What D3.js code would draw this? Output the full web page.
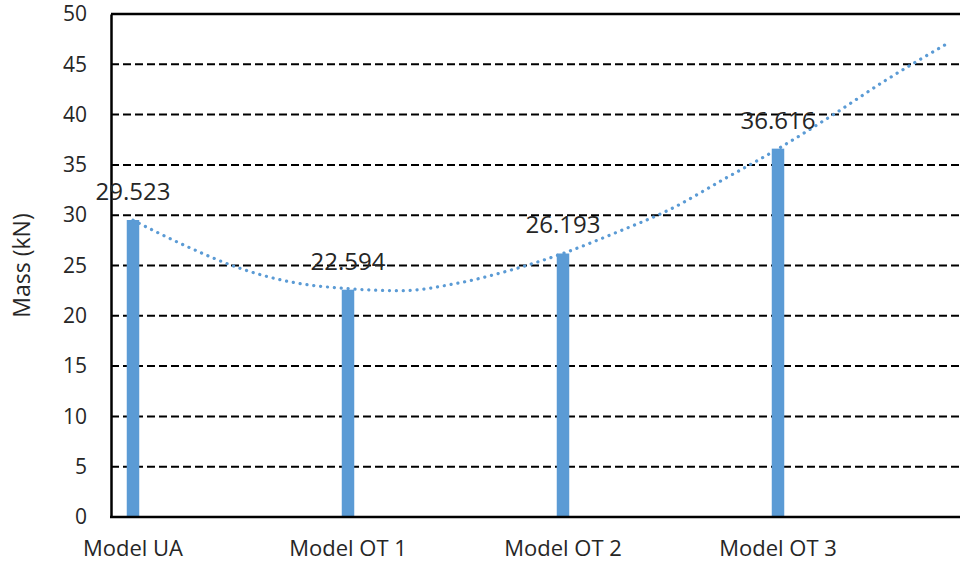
<!DOCTYPE html>
<html>
<head>
<meta charset="utf-8">
<script src="https://cdn.jsdelivr.net/npm/d3@7"></script>
<style>
  body { margin: 0; background: #fff; }
  text { font-family: "Open Sans", "Liberation Sans", sans-serif; fill: #262626; }
</style>
</head>
<body>
<div id="chart"></div>
<script>
const width = 962
const height = 561

// Bars
const models = ["Model UA", "Model OT 1", "Model OT 2", "Model OT 3"]
const masses = [29.523, 22.594, 26.193, 36.616]

// Dotted trend line (category index, value)
const trendIndex = [0, 0.25, 0.5, 0.75, 1.0, 1.25, 1.5, 1.75, 2.0, 2.25, 2.5, 2.75, 3.0, 3.25, 3.5, 3.79]
const trendValues = [29.5, 26.9, 24.7, 23.3, 22.7, 22.5, 23.2, 24.5, 26.2, 28.3, 30.6, 33.6, 36.6, 39.9, 43.4, 47.1]

const yTicks = [0, 5, 10, 15, 20, 25, 30, 35, 40, 45, 50]

const plotLeft = 111
const plotRight = 960
const plotTop = 14
const plotBottom = 517
const barWidth = 12.5
const blue = "#5b9bd5"

const svg = d3.select("#chart").append("svg")
  .attr("width", width)
  .attr("height", height)

const x = d3.scaleLinear().domain([0, 3]).range([133, 778])
const y = d3.scaleLinear().domain([0, 50]).range([plotBottom, plotTop])

// Gridlines, dashed; the top one is solid like a frame line
svg.append("g")
  .selectAll("line")
  .data(yTicks.filter(d => d > 0))
  .enter().append("line")
  .attr("x1", plotLeft)
  .attr("x2", plotRight)
  .attr("y1", d => y(d))
  .attr("y2", d => y(d))
  .attr("stroke", "#000")
  .attr("stroke-width", d => d === 50 ? 2.5 : 2)
  .attr("stroke-dasharray", d => d === 50 ? null : "8 4")

// Bars
svg.append("g")
  .selectAll("rect")
  .data(masses)
  .enter().append("rect")
  .attr("x", (d, i) => x(i) - barWidth / 2)
  .attr("width", barWidth)
  .attr("y", d => y(d))
  .attr("height", d => y(0) - y(d))
  .attr("fill", blue)

// Trend line
const trendLine = d3.line()
  .x((d, i) => x(trendIndex[i]))
  .y(d => y(d))
  .curve(d3.curveMonotoneX)

svg.append("path")
  .attr("d", trendLine(trendValues))
  .attr("fill", "none")
  .attr("stroke", blue)
  .attr("stroke-width", 3.2)
  .attr("stroke-linecap", "round")
  .attr("stroke-dasharray", "0.1 6.8")

// Axes
const yAxis = d3.axisLeft(y).tickValues(yTicks).tickSize(0).tickPadding(24)
const yg = svg.append("g")
  .attr("transform", "translate(" + plotLeft + ",0)")
  .call(yAxis)
yg.select(".domain").attr("stroke", "#000").attr("stroke-width", 2.5)
yg.selectAll("text").style("font-size", "21px").attr("fill", "#262626")

svg.append("line")
  .attr("x1", plotLeft - 1)
  .attr("x2", plotRight)
  .attr("y1", plotBottom)
  .attr("y2", plotBottom)
  .attr("stroke", "#000")
  .attr("stroke-width", 2.5)

// Category labels
svg.append("g")
  .selectAll("text")
  .data(models)
  .enter().append("text")
  .attr("x", (d, i) => x(i))
  .attr("y", 556)
  .attr("text-anchor", "middle")
  .style("font-size", "22px")
  .text(d => d)

// Data labels
svg.append("g")
  .selectAll("text")
  .data(masses)
  .enter().append("text")
  .attr("x", (d, i) => x(i))
  .attr("y", d => y(d) - 20)
  .attr("text-anchor", "middle")
  .style("font-size", "24px")
  .attr("fill", "#1a1a1a")
  .text(d => d3.format(".3f")(d))

// Axis title
svg.append("text")
  .attr("transform", "translate(30," + ((plotTop + plotBottom) / 2) + ") rotate(-90)")
  .attr("text-anchor", "middle")
  .style("font-size", "23px")
  .text("Mass (kN)")
</script>
</body>
</html>
